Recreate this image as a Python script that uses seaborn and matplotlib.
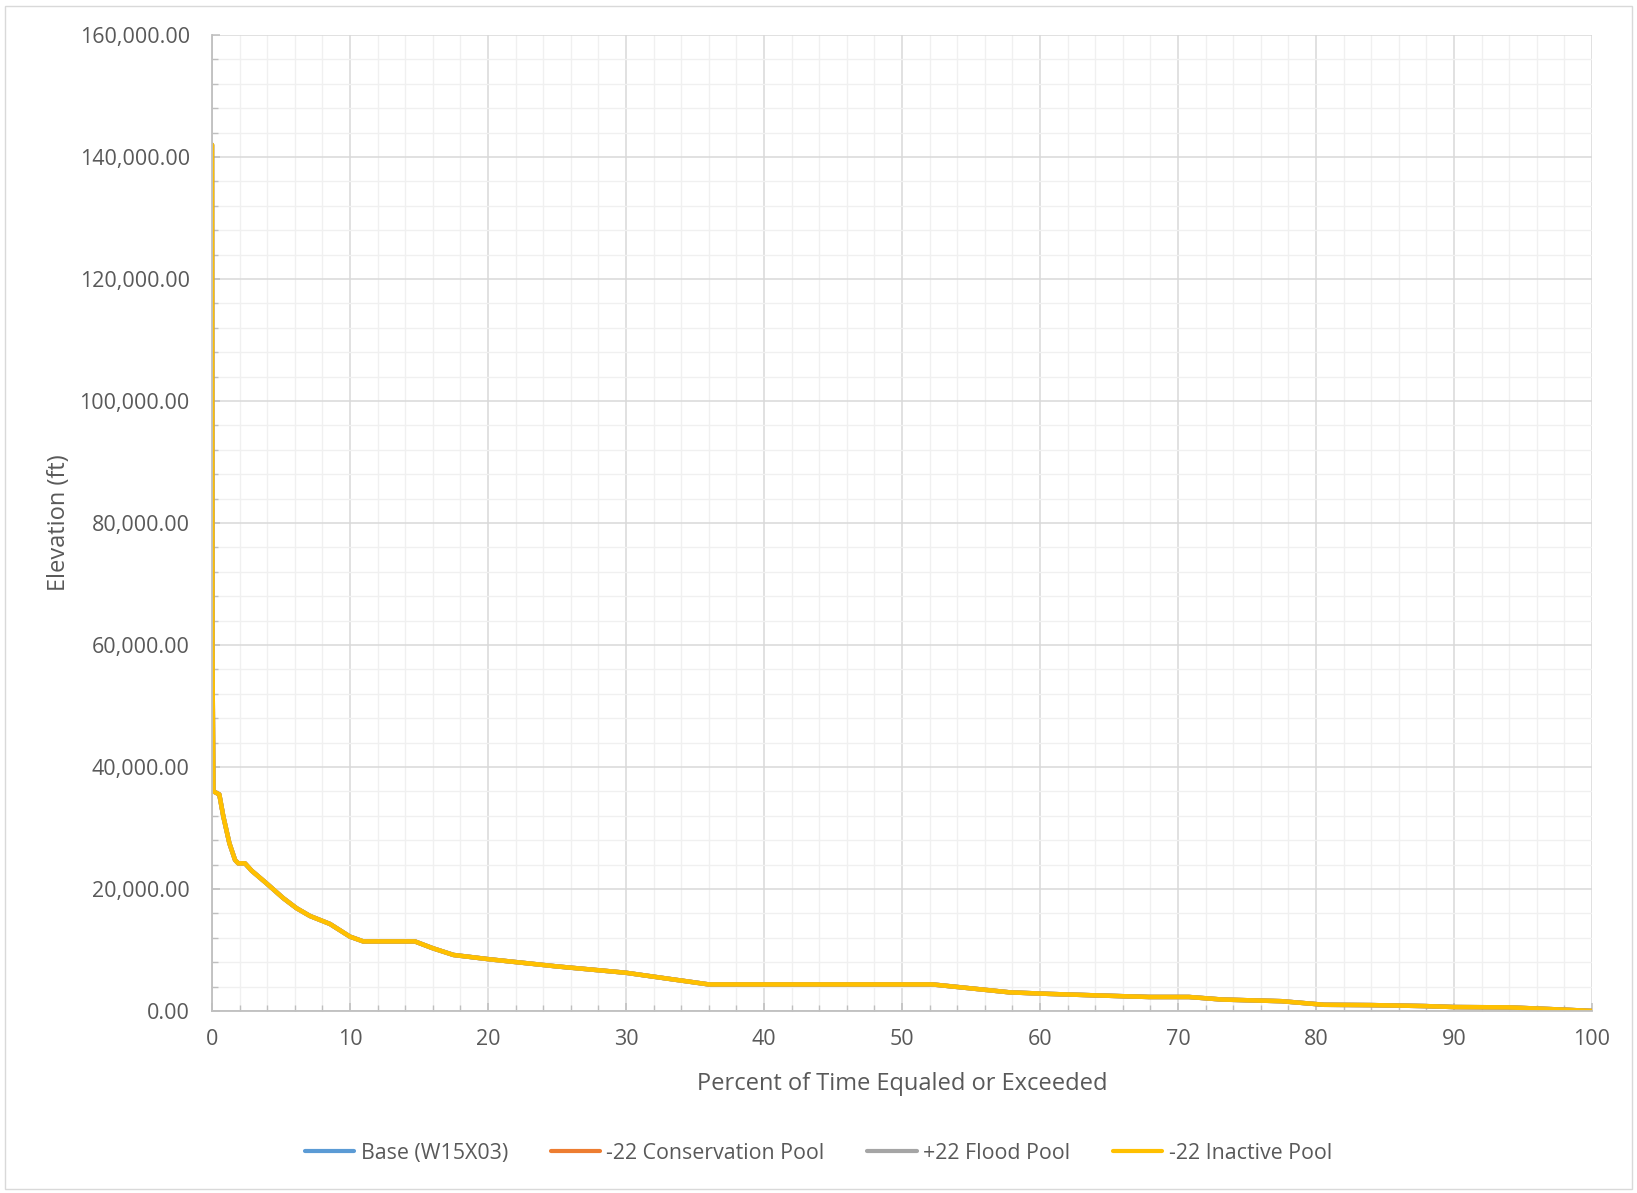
import matplotlib
matplotlib.use("Agg")
import matplotlib.pyplot as plt
from matplotlib.patches import Rectangle
from matplotlib.ticker import MultipleLocator, FuncFormatter
import seaborn as sns
import pandas as pd

# Elevation-duration curve (percent of time equaled or exceeded)
pct = [0, 0.03, 0.1, 0.53, 0.82, 1.26, 1.67, 1.9, 2.39, 2.87, 3.96, 5.17, 6.13,
       7.1, 8.55, 10.0, 10.96, 14.7, 16.0, 17.5, 20.1, 25, 30, 33, 36, 52.2,
       55, 57.8, 60.6, 64.8, 67.9, 70.8, 73.2, 77.5, 80.6, 84.0, 87.9, 90.0,
       93.9, 98.0, 100]
base_elev = [142000, 60000, 36000, 35500, 31900, 27500, 24750, 24200, 24200,
             23000, 20900, 18480, 16840, 15570, 14260, 12180, 11400, 11400,
             10280, 9180, 8470, 7300, 6260, 5300, 4350, 4350, 3700, 3050, 2800,
             2500, 2290, 2290, 1870, 1600, 1010, 960, 800, 640, 590, 210, 0]
conservation_elev = list(base_elev)
flood_elev = list(base_elev)
inactive_elev = list(base_elev)

series_names = ["Base (W15X03)", "-22 Conservation Pool", "+22 Flood Pool",
                "-22 Inactive Pool"]
series_values = [base_elev, conservation_elev, flood_elev, inactive_elev]
series_colors = ["#5B9BD5", "#ED7D31", "#A5A5A5", "#FFC000"]

frames = []
for name, vals in zip(series_names, series_values):
    frames.append(pd.DataFrame({"pct": pct, "elev": vals, "series": name}))
df = pd.concat(frames, ignore_index=True)

sns.set_theme(style="white")
plt.rcParams["font.family"] = ["Open Sans", "DejaVu Sans"]
text_color = "#595959"

fig = plt.figure(figsize=(16.37, 11.93), dpi=100)
ax = fig.add_axes([0.1295, 0.1526, 0.843, 0.8181])

sns.lineplot(data=df, x="pct", y="elev", hue="series", hue_order=series_names,
             palette=series_colors, estimator=None, sort=False,
             linewidth=3.2, ax=ax, legend=True)

ax.set_xlim(0, 100)
ax.set_ylim(0, 160000)
ax.xaxis.set_major_locator(MultipleLocator(10))
ax.xaxis.set_minor_locator(MultipleLocator(2))
ax.yaxis.set_major_locator(MultipleLocator(20000))
ax.yaxis.set_minor_locator(MultipleLocator(4000))
ax.yaxis.set_major_formatter(FuncFormatter(lambda v, p: f"{v:,.2f}"))

ax.grid(which="major", color="#d9d9d9", linewidth=1.1)
ax.grid(which="minor", color="#f0f0f0", linewidth=1.0)
ax.set_axisbelow(True)

for side in ["top", "right"]:
    ax.spines[side].set_visible(False)
for side in ["left", "bottom"]:
    ax.spines[side].set_color("#bfbfbf")
    ax.spines[side].set_linewidth(1.3)

ax.tick_params(which="major", direction="in", length=6, width=1.1,
               color="#bfbfbf", labelsize=15.5, labelcolor=text_color)
ax.tick_params(which="minor", direction="in", length=4, width=1.0,
               color="#bfbfbf")
ax.tick_params(axis="y", which="major", pad=16, left=True)
ax.tick_params(axis="x", which="major", pad=13, bottom=True)
ax.tick_params(axis="y", which="minor", left=True)
ax.tick_params(axis="x", which="minor", bottom=True)

ax.set_xlabel("Percent of Time Equaled or Exceeded", fontsize=17,
              color=text_color, labelpad=16)
ax.set_ylabel("Elevation (ft)", fontsize=17, color=text_color, labelpad=6)

handles, labels = ax.get_legend_handles_labels()
ax.get_legend().remove()
fig.legend(handles, labels, loc="center", bbox_to_anchor=(0.5, 0.0335),
           ncol=4, frameon=False, fontsize=15.4, labelcolor=text_color,
           handlelength=2.3, handletextpad=0.3, columnspacing=2.0)
for h in fig.legends[0].get_lines():
    h.set_linewidth(3.0)

# chart-area border
fig.patches.append(Rectangle((0.003, 0.003), 0.994, 0.992,
                             transform=fig.transFigure, fill=False,
                             edgecolor="#d9d9d9", linewidth=1.0))

fig.savefig("out.png", dpi=100)
